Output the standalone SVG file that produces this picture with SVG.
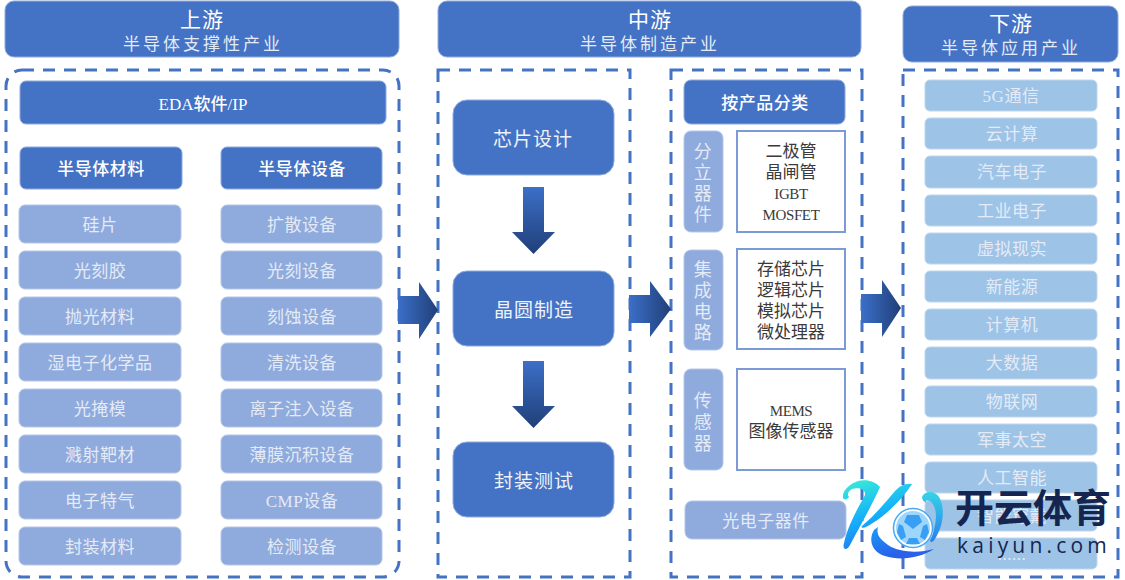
<svg xmlns="http://www.w3.org/2000/svg" width="1125" height="580" viewBox="0 0 1125 580">
<style>
text{font-family:"Liberation Serif","Noto Sans CJK SC",serif;text-anchor:middle}
.hd{fill:#4472c4;stroke:#8faadc;stroke-width:1}
.lt{fill:#8faadc;stroke:#b4c7e7;stroke-width:1}
.sk{fill:#9dc3e6;stroke:#bdd7ee;stroke-width:1}
.dash{fill:none;stroke:#4472c4;stroke-width:3;stroke-dasharray:12 9}
.box{fill:#fff;stroke:#7c9bd6;stroke-width:2}
.t1{fill:#fff;font-size:21px;letter-spacing:1px}
.t2{fill:#e4ebf7;font-size:17px;letter-spacing:3px}
.t3{fill:#fff;font-size:17px;letter-spacing:.5px;font-weight:500}
.t4{fill:#e4ebf7;font-size:17px;letter-spacing:.5px}
.t5{fill:#eef2fa;font-size:19px;letter-spacing:1px}
.t6{fill:#3a3a3a;font-size:17px}
.l6{fill:#3a3a3a;font-size:15px;letter-spacing:-.4px}
.v{font-size:18px}
</style>
<defs>
<linearGradient id="gh" x1="0" x2="1" y1="0" y2="0"><stop offset="0" stop-color="#3c6fc8"/><stop offset="1" stop-color="#203f78"/></linearGradient>
<linearGradient id="gv" x1="0" x2="0" y1="0" y2="1"><stop offset="0" stop-color="#3c6fc8"/><stop offset="1" stop-color="#203f78"/></linearGradient>
<linearGradient id="kg" gradientUnits="userSpaceOnUse" x1="860" y1="481" x2="885" y2="558"><stop offset="0" stop-color="#35e6dc"/><stop offset="0.45" stop-color="#14b0fa"/><stop offset="1" stop-color="#2a60ea"/></linearGradient>
<linearGradient id="kr" gradientUnits="userSpaceOnUse" x1="930" y1="490" x2="930" y2="545"><stop offset="0" stop-color="#35d8e6"/><stop offset="1" stop-color="#2a78ee"/></linearGradient>
</defs>
<g id="containers">
<rect class="dash" x="6" y="70" width="393" height="507" rx="16"/>
<rect class="dash" x="438" y="70" width="192" height="507"/>
<rect class="dash" x="671" y="70" width="191" height="507"/>
<rect class="dash" x="903" y="70" width="215" height="507"/>
</g>
<g id="connectors">
<path fill="url(#gh)" d="M398 296H419V282L438 310 419 339V324H398Z"/>
<path fill="url(#gh)" d="M629 295H650V281L671 309 650 337V323H629Z"/>
<path fill="url(#gh)" d="M861 294H882V280L901 308 882 337V323H861Z"/>
<path fill="url(#gv)" d="M523 187H544V232H555L533.500 254 512 232H523Z"/>
<path fill="url(#gv)" d="M523 361H544V406H555L533.500 428 512 406H523Z"/>
</g>
<g id="n-up"><rect class="hd" x="5" y="1" width="394" height="56" rx="9"/><text class="t1" x="202" y="27">上游</text><text class="t2" x="203" y="50">半导体支撑性产业</text></g>
<g id="n-mid"><rect class="hd" x="438" y="1" width="423" height="56" rx="9"/><text class="t1" x="650" y="27">中游</text><text class="t2" x="650" y="50">半导体制造产业</text></g>
<g id="n-down"><rect class="hd" x="903" y="6" width="215" height="56" rx="9"/><text class="t1" x="1011" y="31">下游</text><text class="t2" x="1011" y="54">半导体应用产业</text></g>
<g id="n-eda"><rect class="hd" x="20" y="81" width="366" height="43" rx="6"/><text class="t3" style="letter-spacing:0" x="203" y="110">EDA软件/IP</text></g>
<g id="n-mat"><rect class="hd" x="20" y="147" width="162" height="42" rx="6"/><text class="t3" x="101" y="175">半导体材料</text></g>
<g id="n-eq"><rect class="hd" x="221" y="147" width="161" height="42" rx="6"/><text class="t3" x="302" y="175">半导体设备</text></g>
<g id="n-m1"><rect class="lt" x="19" y="205" width="162" height="38" rx="6"/><text class="t4" x="100" y="231">硅片</text></g>
<g id="n-m2"><rect class="lt" x="19" y="251" width="162" height="38" rx="6"/><text class="t4" x="100" y="277">光刻胶</text></g>
<g id="n-m3"><rect class="lt" x="19" y="297" width="162" height="38" rx="6"/><text class="t4" x="100" y="323">抛光材料</text></g>
<g id="n-m4"><rect class="lt" x="19" y="343" width="162" height="38" rx="6"/><text class="t4" x="100" y="369">湿电子化学品</text></g>
<g id="n-m5"><rect class="lt" x="19" y="389" width="162" height="38" rx="6"/><text class="t4" x="100" y="415">光掩模</text></g>
<g id="n-m6"><rect class="lt" x="19" y="435" width="162" height="38" rx="6"/><text class="t4" x="100" y="461">溅射靶材</text></g>
<g id="n-m7"><rect class="lt" x="19" y="481" width="162" height="38" rx="6"/><text class="t4" x="100" y="507">电子特气</text></g>
<g id="n-m8"><rect class="lt" x="19" y="527" width="162" height="38" rx="6"/><text class="t4" x="100" y="553">封装材料</text></g>
<g id="n-e1"><rect class="lt" x="221" y="205" width="161" height="38" rx="6"/><text class="t4" x="302" y="231">扩散设备</text></g>
<g id="n-e2"><rect class="lt" x="221" y="251" width="161" height="38" rx="6"/><text class="t4" x="302" y="277">光刻设备</text></g>
<g id="n-e3"><rect class="lt" x="221" y="297" width="161" height="38" rx="6"/><text class="t4" x="302" y="323">刻蚀设备</text></g>
<g id="n-e4"><rect class="lt" x="221" y="343" width="161" height="38" rx="6"/><text class="t4" x="302" y="369">清洗设备</text></g>
<g id="n-e5"><rect class="lt" x="221" y="389" width="161" height="38" rx="6"/><text class="t4" x="302" y="415">离子注入设备</text></g>
<g id="n-e6"><rect class="lt" x="221" y="435" width="161" height="38" rx="6"/><text class="t4" x="302" y="461">薄膜沉积设备</text></g>
<g id="n-e7"><rect class="lt" x="221" y="481" width="161" height="38" rx="6"/><text class="t4" x="302" y="507">CMP设备</text></g>
<g id="n-e8"><rect class="lt" x="221" y="527" width="161" height="38" rx="6"/><text class="t4" x="302" y="553">检测设备</text></g>
<g id="n-design"><rect class="hd" x="453" y="100" width="161" height="75" rx="14"/><text class="t5" x="533" y="146">芯片设计</text></g>
<g id="n-fab"><rect class="hd" x="453" y="271" width="161" height="75" rx="14"/><text class="t5" x="534" y="317">晶圆制造</text></g>
<g id="n-pkg"><rect class="hd" x="453" y="442" width="161" height="75" rx="14"/><text class="t5" x="534" y="488">封装测试</text></g>
<g id="n-class"><rect class="hd" x="684" y="80" width="161" height="44" rx="7"/><text class="t3" x="765" y="109">按产品分类</text></g>
<g id="n-disc"><rect class="lt" x="684" y="131" width="39" height="101" rx="7"/><text class="t4 v" x="703" y="158">分</text><text class="t4 v" x="703" y="179">立</text><text class="t4 v" x="703" y="200">器</text><text class="t4 v" x="703" y="221">件</text></g>
<g id="n-disc-list"><rect class="box" x="737" y="131" width="108" height="101"/><text class="t6" x="791" y="157">二极管</text><text class="t6" x="791" y="178">晶闸管</text><text class="l6" x="791" y="199">IGBT</text><text class="l6" x="791" y="220">MOSFET</text></g>
<g id="n-ic"><rect class="lt" x="684" y="250" width="39" height="100" rx="7"/><text class="t4 v" x="703" y="276">集</text><text class="t4 v" x="703" y="297">成</text><text class="t4 v" x="703" y="318">电</text><text class="t4 v" x="703" y="339">路</text></g>
<g id="n-ic-list"><rect class="box" x="737" y="249" width="108" height="100"/><text class="t6" x="791" y="275">存储芯片</text><text class="t6" x="791" y="296">逻辑芯片</text><text class="t6" x="791" y="317">模拟芯片</text><text class="t6" x="791" y="338">微处理器</text></g>
<g id="n-sensor"><rect class="lt" x="684" y="369" width="39" height="101" rx="7"/><text class="t4 v" x="703" y="407">传</text><text class="t4 v" x="703" y="429">感</text><text class="t4 v" x="703" y="450">器</text></g>
<g id="n-sensor-list"><rect class="box" x="737" y="369" width="108" height="101"/><text class="l6" x="791" y="416">MEMS</text><text class="t6" x="791" y="437">图像传感器</text></g>
<g id="n-opto"><rect class="lt" x="685" y="501" width="161" height="38" rx="7"/><text class="t4" x="766" y="527">光电子器件</text></g>
<g id="n-a1"><rect class="sk" x="925" y="80" width="172" height="31" rx="5"/><text class="t4" x="1011" y="102">5G通信</text></g>
<g id="n-a2"><rect class="sk" x="925" y="118" width="172" height="31" rx="5"/><text class="t4" x="1012" y="140">云计算</text></g>
<g id="n-a3"><rect class="sk" x="925" y="156" width="172" height="32" rx="5"/><text class="t4" x="1012" y="178">汽车电子</text></g>
<g id="n-a4"><rect class="sk" x="925" y="195" width="172" height="31" rx="5"/><text class="t4" x="1012" y="217">工业电子</text></g>
<g id="n-a5"><rect class="sk" x="925" y="233" width="172" height="31" rx="5"/><text class="t4" x="1012" y="255">虚拟现实</text></g>
<g id="n-a6"><rect class="sk" x="925" y="271" width="172" height="31" rx="5"/><text class="t4" x="1012" y="293">新能源</text></g>
<g id="n-a7"><rect class="sk" x="925" y="309" width="172" height="31" rx="5"/><text class="t4" x="1012" y="331">计算机</text></g>
<g id="n-a8"><rect class="sk" x="925" y="347" width="172" height="32" rx="5"/><text class="t4" x="1012" y="369">大数据</text></g>
<g id="n-a9"><rect class="sk" x="925" y="386" width="172" height="31" rx="5"/><text class="t4" x="1012" y="408">物联网</text></g>
<g id="n-a10"><rect class="sk" x="925" y="424" width="172" height="31" rx="5"/><text class="t4" x="1012" y="446">军事太空</text></g>
<g id="n-a11"><rect class="sk" x="925" y="462" width="172" height="31" rx="5"/><text class="t4" x="1012" y="484">人工智能</text></g>
<g id="n-a12"><rect class="sk" x="925" y="500" width="172" height="31" rx="5"/><text class="t4" x="1012" y="522">智能穿戴</text></g>
<g id="n-a13"><rect class="sk" x="925" y="538" width="172" height="31" rx="5"/><text class="t4" x="1012" y="560">......</text></g>
<g id="watermark">
<path fill="url(#kg)" d="M843 498C842 490 850 484 858 481 866 479 875 481 880 487 872 505 858 530 850 545 847 551 842 550 844 543 848 525 858 508 865 495 866 489 858 487 852 489 848 491 847 495 849 497 847 500 844 500 843 498Z"/>
<path fill="url(#kg)" d="M912 484C905 483 900 486 895 491 885 503 875 515 862 526 860 528 864 528 866 527 880 520 900 503 912 484Z"/>
<path fill="url(#kg)" d="M874 530C868 540 872 552 885 556 900 561 920 558 934 549 920 553 900 553 888 545 880 539 876 535 878 527Z"/>
<path fill="url(#kr)" d="M922 497C925 490 935 491 939 497 945 507 944 525 935 539 933 542 931 543 930 541 937 525 938 510 932 503 929 499 925 500 926 503 924 502 922 500 922 497Z"/>
<circle cx="913" cy="528" r="19.500" fill="#fff" stroke="#45aaf5" stroke-width="1.500"/>
<circle cx="913" cy="528" r="17" fill="#9ed6fb"/>
<path fill="#3a9ff2" d="M907 515L919 515 922 522 913 529 904 522ZM899 524L903 526 906 537 901 540 897 532ZM927 524L923 526 920 537 925 540 929 532ZM906 544L920 544 917 538 909 538Z"/>
<text x="1033" y="522" font-size="39" font-weight="700" fill="#16254f" style="font-family:'Noto Sans CJK SC',sans-serif">开云体育</text>
<text x="1034" y="553" font-size="21" font-weight="500" fill="#16254f" letter-spacing="4.200" style="font-family:'Open Sans',sans-serif">kaiyun.com</text>
</g>
</svg>
